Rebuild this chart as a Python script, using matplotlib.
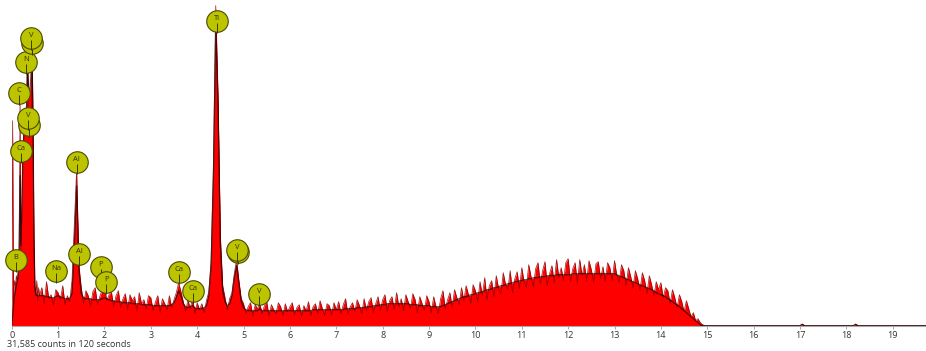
import matplotlib
matplotlib.use("Agg")
import matplotlib.pyplot as plt
import numpy as np

plt.rcParams["font.family"] = ["Open Sans", "DejaVu Sans"]

# --- spectrum data (arbitrary count units) ---
# low-energy channels, 0.00 .. 0.60 keV every 0.02 keV
low_energy = np.arange(0.0, 0.601, 0.02)
low_counts = [0, 205, 20, 45, 40, 50, 45, 55, 60, 225, 75, 120, 175, 195, 200, 195,
              205, 285, 200, 195, 200, 210, 285, 190, 75, 35, 30, 45, 25, 38, 30]
low_fit = [0, 10, 20, 30, 35, 40, 45, 50, 80, 150, 80, 120, 170, 190, 200, 205,
           215, 260, 240, 230, 240, 255, 270, 200, 90, 40, 32, 30, 30, 30, 30]

# main channels, 0.65 .. 15.00 keV every 0.05 keV
main_energy = np.arange(0.65, 15.001, 0.05)
main_counts = [
    38, 22, 44, 27, 31, 20, 36,
    33, 26, 40, 21, 30, 24, 45, 100, 156, 60, 38, 22, 35, 30, 19, 34, 38, 21, 29, 36,
    39, 25, 31, 34, 19, 30, 35, 18, 27, 32, 16, 31, 25, 29, 14, 33, 22, 26, 17, 30,
    28, 15, 24, 30, 13, 27, 22, 16, 30, 18, 26, 33, 43, 34, 24, 14, 26, 17, 28, 12,
    23, 16, 22, 13, 25, 34, 65, 160, 320, 230, 90, 40, 28, 16, 27, 33, 52, 66, 45, 27,
    22, 12, 19, 23, 10, 21, 17, 22, 12, 20, 24, 9, 21, 16, 12, 23, 19, 10, 22, 14,
    19, 23, 11, 18, 21, 9, 20, 15, 24, 10, 19, 22, 12, 25, 17, 10, 22, 20, 11, 23,
    16, 24, 12, 21, 27, 11, 19, 23, 14, 26, 20, 12, 27, 15, 24, 28, 13, 22, 29, 15,
    26, 31, 14, 25, 29, 16, 33, 19, 27, 15, 31, 24, 17, 32, 26, 13, 29, 22, 15, 30,
    24, 13, 29, 19, 12, 27, 35, 17, 26, 33, 18, 36, 28, 21, 38, 25, 40, 31, 22, 41,
    35, 24, 44, 30, 48, 26, 40, 45, 29, 50, 37, 32, 53, 41, 36, 55, 33, 47, 54, 37,
    58, 44, 38, 61, 49, 39, 57, 63, 42, 55, 64, 40, 52, 60, 43, 66, 48, 58, 45, 63,
    67, 44, 57, 63, 42, 66, 50, 61, 45, 65, 56, 43, 62, 64, 47, 59, 44, 63, 58, 45,
    65, 50, 43, 61, 55, 40, 58, 49, 38, 55, 47, 35, 53, 45, 32, 50, 41, 30, 44, 36,
    43, 28, 38, 35, 22, 36, 28, 18, 31, 24, 14, 25, 17, 9, 13, 5, 7, 3, 1, 0,
    0,
]
main_fit = [
    30, 30, 29, 29, 28, 28, 29,
    30, 29, 28, 27, 27, 27, 32, 80, 140, 55, 32, 28, 27, 27, 27, 26, 26, 26, 26, 27,
    28, 27, 26, 25, 25, 24, 24, 24, 23, 23, 23, 23, 22, 22, 22, 22, 21, 21, 21, 21,
    21, 20, 20, 20, 20, 20, 20, 20, 20, 21, 23, 28, 35, 30, 22, 19, 18, 19, 20, 18,
    17, 17, 17, 18, 20, 30, 60, 150, 300, 220, 80, 35, 24, 20, 22, 30, 48, 60, 42, 24,
    18, 16, 15, 15, 15, 15, 15, 17, 15, 15, 15, 15, 15, 15, 15, 15, 15, 15, 15, 15,
    15, 15, 15, 15, 15, 15, 15, 15, 15, 15, 16, 16, 16, 16, 16, 16, 16, 16, 16, 16,
    16, 16, 16, 16, 17, 17, 17, 17, 17, 18, 18, 18, 18, 19, 19, 19, 20, 20, 20, 21,
    21, 21, 22, 22, 22, 22, 22, 22, 22, 22, 22, 22, 21, 21, 21, 21, 20, 20, 20, 20,
    20, 19, 19, 19, 19, 19, 20, 21, 22, 23, 24, 25, 26, 27, 28, 29, 29, 30, 31, 31,
    32, 33, 33, 34, 35, 36, 36, 37, 38, 38, 39, 40, 40, 41, 42, 42, 43, 44, 44, 45,
    45, 46, 46, 47, 47, 48, 48, 48, 49, 49, 49, 50, 50, 50, 50, 51, 51, 51, 51, 51,
    51, 51, 52, 52, 52, 52, 52, 52, 52, 52, 52, 52, 52, 52, 52, 52, 52, 52, 52, 52,
    52, 51, 50, 49, 48, 47, 46, 45, 44, 43, 42, 41, 40, 39, 38, 37, 36, 35, 33, 32,
    31, 30, 29, 27, 26, 24, 22, 21, 19, 17, 15, 13, 11, 9, 7, 5, 3, 1, 0, 0,
    0,
]

# empty tail above 15 keV
tail_energy = [15.5, 17.0, 17.05, 17.1, 18.15, 18.2, 18.25, 19.72]
tail_counts = [0, 0, 1.5, 0, 0, 1.5, 0, 0]

# element line markers: label, energy (keV), height (counts)
# (an empty label is a circle hidden behind the one drawn after it)
marker_labels = ["B", "Ca", "", "V", "C", "N", "", "V", "Na", "Al", "Al", "P", "P",
                 "Ca", "Ca", "Ti", "", "V", "V"]
marker_energy = [0.085, 0.20, 0.373, 0.36, 0.164, 0.302, 0.443, 0.416, 0.955, 1.40,
                 1.458, 1.92, 2.034, 3.608, 3.917, 4.42, 4.877, 4.865, 5.34]
marker_height = [66, 175, 201, 208, 233, 264, 283, 288, 55, 164, 72, 59, 44,
                 54, 35, 305, 74, 76, 32]

caption = "31,585 counts in 120 seconds"
x_ticks = list(range(0, 20))

energy = np.concatenate([low_energy, main_energy, tail_energy])
counts = np.concatenate([low_counts, main_counts, tail_counts])
fit = np.concatenate([low_fit, main_fit, tail_counts])

W, H = 926, 351
fig = plt.figure(figsize=(W / 100, H / 100), dpi=100)
ax = fig.add_axes([11.7 / W, (H - 325.7) / H, (W - 11.7) / W, 325.7 / H])

ax.fill_between(energy, counts, color="#ff0000", lw=0, zorder=1)
ax.fill_between(energy, fit, color="#ff0000", lw=0, zorder=1)
ax.plot(energy, counts, color="#8b0000", lw=0.55, alpha=0.85, zorder=2)
ax.plot(energy, fit, color="black", lw=0.9, alpha=0.65, zorder=3)

for i, (lab, e, h) in enumerate(zip(marker_labels, marker_energy, marker_height)):
    z = 4 + 3 * i
    ax.scatter([e], [h], s=240, color="#bcc400", edgecolor="#4b4b00",
               linewidth=0.8, zorder=z, clip_on=False)
    ax.vlines(e, h - 12, h - 2, color="#3a3a00", lw=0.7, zorder=z + 1)
    if lab:
        ax.text(e, h + 2.5, lab, ha="center", va="center", fontsize=5.5,
                color="#333300", zorder=z + 2, clip_on=False)

ax.set_xlim(0, (W - 11.7) / 46.37)
ax.set_ylim(0, 325.7)
ax.set_xticks(x_ticks)
ax.tick_params(axis="x", length=2, width=0.6, color="#999999", labelsize=6.5,
               labelcolor="#333333", pad=1.5)
ax.set_yticks([])
for side in ["left", "right", "top"]:
    ax.spines[side].set_visible(False)
ax.spines["bottom"].set_color("#aaaaaa")
ax.spines["bottom"].set_linewidth(0.8)
ax.patch.set_alpha(0)

fig.text(7 / W, 1 - 344 / H, caption, fontsize=6.5, color="#333333",
         ha="left", va="center")

fig.savefig("out.png", dpi=100)
